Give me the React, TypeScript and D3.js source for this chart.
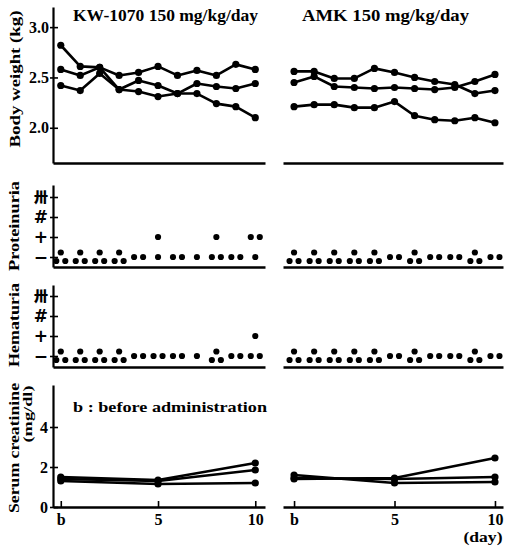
import React, { useEffect, useRef } from 'react';
import * as d3 from 'd3';

// days after start, b = before administration (day 0)
const days = [0, 1, 2, 3, 4, 5, 6, 7, 8, 9, 10];
const dayTicks = [0, 5, 10];
const dayTickLabels = ['b', '5', '10'];

// body weight (kg), KW-1070 group
const kwWeight1 = [2.82, 2.61, 2.6, 2.38, 2.47, 2.42, 2.34, 2.34, 2.24, 2.21, 2.1];
const kwWeight2 = [2.42, 2.37, 2.54, 2.38, 2.36, 2.31, 2.34, 2.44, 2.41, 2.39, 2.44];
const kwWeight3 = [2.58, 2.52, 2.6, 2.52, 2.55, 2.61, 2.52, 2.57, 2.52, 2.63, 2.58];

// body weight (kg), AMK group
const amkWeight1 = [2.56, 2.56, 2.49, 2.49, 2.59, 2.55, 2.5, 2.46, 2.43, 2.34, 2.37];
const amkWeight2 = [2.45, 2.51, 2.41, 2.4, 2.39, 2.4, 2.39, 2.38, 2.4, 2.46, 2.53];
const amkWeight3 = [2.21, 2.23, 2.23, 2.2, 2.2, 2.26, 2.12, 2.08, 2.07, 2.1, 2.05];

const weightTicks = [2.0, 2.5, 3.0];

// urine grades: 0 = -, 1 = +, 2 = ++, 3 = +++ (one entry per visible dot)
const gradeTicks = [0, 1, 2, 3];
const gradeLabels = ['\u2212', '+', '#', '\u5345'];

const kwProteinuria = [[0, 0, 0], [0, 0, 0], [0, 0, 0], [0, 0, 0], [0, 0], [0, 1], [0, 0], [0], [0, 0, 1], [0, 0], [0, 1, 1]];
const amkProteinuria = [[0, 0, 0], [0, 0, 0], [0, 0, 0], [0, 0, 0], [0, 0, 0], [0, 0], [0, 0, 0], [0, 0], [0, 0], [0, 0, 0], [0, 0]];
const kwHematuria = [[0, 0, 0], [0, 0, 0], [0, 0, 0], [0, 0, 0], [0, 0], [0, 0], [0, 0], [0], [0, 0, 0], [0, 0], [0, 0, 1]];
const amkHematuria = [[0, 0, 0], [0, 0, 0], [0, 0, 0], [0, 0, 0], [0, 0, 0], [0, 0], [0, 0, 0], [0, 0], [0, 0], [0, 0, 0], [0, 0]];

// serum creatinine (mg/dl)
const creatDays = [0, 5, 10];
const kwCreat1 = [1.5, 1.35, 2.2];
const kwCreat2 = [1.4, 1.3, 1.85];
const kwCreat3 = [1.3, 1.15, 1.2];
const amkCreat1 = [1.6, 1.2, 1.25];
const amkCreat2 = [1.4, 1.45, 2.45];
const amkCreat3 = [1.45, 1.4, 1.5];
const creatTicks = [0, 2, 4];

const serif = '"Liberation Serif", "DejaVu Serif", serif';
const sansBold = '"DejaVu Sans", sans-serif';
const cjk = '"Noto Sans CJK JP", "Noto Sans CJK SC", sans-serif';

const App = () => {
  const ref = useRef(null);

  useEffect(() => {
    document.body.style.margin = '0';
    let svg = d3.select(ref.current);
    svg.selectAll('*').remove();

    let xLeft = d3.scaleLinear().domain([-0.4, 10.5]).range([53, 265]);
    let xRight = d3.scaleLinear().domain([-0.55, 10.4]).range([283, 503]);

    let yWeight = d3.scaleLinear().domain([1.65, 3.2]).range([163, 7]);
    let yProt = d3.scaleLinear().domain([-0.5, 3.6]).range([267, 185]);
    let yHema = d3.scaleLinear().domain([-0.55, 3.55]).range([367, 285]);
    let yCreat = d3.scaleLinear().domain([0, 6.1]).range([507, 385]);

    const styleText = (g, size, family) => {
      g.attr('font-family', null).attr('font-size', null);
      g.selectAll('text')
        .attr('font-family', family || serif)
        .attr('font-weight', 'bold')
        .attr('font-size', size)
        .attr('fill', '#000');
    };

    const yAxis = (y, ticks, labels, pad, size, family) => {
      let g = svg.append('g')
        .attr('transform', 'translate(53,0)')
        .call(d3.axisLeft(y).tickValues(ticks)
          .tickFormat((d, i) => labels[i])
          .tickSizeInner(-5).tickSizeOuter(0).tickPadding(pad));
      g.select('.domain').attr('stroke-width', 2.2);
      g.selectAll('.tick line').attr('x1', -3).attr('x2', 5).attr('stroke-width', 1.6);
      styleText(g, size, family);
      return g;
    };

    const gradeAxis = (y) => {
      let g = yAxis(y, gradeTicks, gradeLabels, 5, 17, sansBold);
      g.selectAll('.tick text')
        .filter((d) => d === 3)
        .attr('font-family', cjk)
        .attr('font-weight', 900)
        .attr('font-size', 14);
    };

    const xAxis = (x, yPos, withTicks) => {
      let axis = d3.axisBottom(x).tickSizeOuter(0);
      if (withTicks) {
        axis = axis.tickValues(dayTicks).tickFormat((d, i) => dayTickLabels[i])
          .tickSizeInner(-6).tickPadding(7);
      } else {
        axis = axis.tickValues([]);
      }
      let g = svg.append('g').attr('transform', 'translate(0,' + yPos + ')').call(axis);
      g.select('.domain').attr('stroke-width', 2.4);
      g.selectAll('.tick line').attr('stroke-width', 1.6);
      styleText(g, 16);
    };

    const series = (x, y, xs, values, r) => {
      let line = d3.line().x((d, i) => x(xs[i])).y((d) => y(d));
      svg.append('path')
        .attr('d', line(values))
        .attr('fill', 'none')
        .attr('stroke', '#000')
        .attr('stroke-width', 2.6)
        .attr('stroke-linejoin', 'round');
      svg.append('g').selectAll('circle')
        .data(values)
        .enter().append('circle')
        .attr('cx', (d, i) => x(xs[i]))
        .attr('cy', (d) => y(d))
        .attr('r', r)
        .attr('fill', '#000');
    };

    // spread dots of the same grade on a day: single, pair, or small triangle
    const gradeDots = (x, y, data) => {
      let pts = [];
      data.forEach((grades, i) => {
        d3.groups(grades, (g) => g).forEach(([grade, list]) => {
          let n = list.length;
          let offsets = n === 1 ? [[0, 0]]
            : n === 2 ? [[-4.5, 0], [4.5, 0]]
            : [[-4.5, 4], [0, -4.5], [4.5, 4]];
          offsets.forEach(([dx, dy]) => {
            pts.push({ cx: x(days[i]) + dx, cy: y(grade) + dy });
          });
        });
      });
      svg.append('g').selectAll('circle')
        .data(pts)
        .enter().append('circle')
        .attr('cx', (d) => d.cx)
        .attr('cy', (d) => d.cy)
        .attr('r', 3.1)
        .attr('fill', '#000');
    };

    // body weight
    yAxis(yWeight, weightTicks, weightTicks.map((d) => d3.format('.1f')(d)), 4, 16);
    xAxis(xLeft, 163, false);
    xAxis(xRight, 163, false);
    [kwWeight1, kwWeight2, kwWeight3].forEach((s) => series(xLeft, yWeight, days, s, 3.6));
    [amkWeight1, amkWeight2, amkWeight3].forEach((s) => series(xRight, yWeight, days, s, 3.6));

    // proteinuria
    gradeAxis(yProt);
    xAxis(xLeft, 267, false);
    xAxis(xRight, 267, false);
    gradeDots(xLeft, yProt, kwProteinuria);
    gradeDots(xRight, yProt, amkProteinuria);

    // hematuria
    gradeAxis(yHema);
    xAxis(xLeft, 367, false);
    xAxis(xRight, 367, false);
    gradeDots(xLeft, yHema, kwHematuria);
    gradeDots(xRight, yHema, amkHematuria);

    // serum creatinine
    yAxis(yCreat, creatTicks, creatTicks.map(String), 5, 16);
    xAxis(xLeft, 507, true);
    xAxis(xRight, 507, true);
    [kwCreat1, kwCreat2, kwCreat3].forEach((s) => series(xLeft, yCreat, creatDays, s, 3.6));
    [amkCreat1, amkCreat2, amkCreat3].forEach((s) => series(xRight, yCreat, creatDays, s, 3.6));

    // texts
    const label = (txt, x, y, size, len, rotate, anchor) => {
      svg.append('text')
        .attr('transform', 'translate(' + x + ',' + y + ')' + (rotate ? ' rotate(-90)' : ''))
        .attr('text-anchor', anchor || 'middle')
        .attr('font-family', serif)
        .attr('font-weight', 'bold')
        .attr('font-size', size)
        .attr('textLength', len)
        .attr('lengthAdjust', 'spacingAndGlyphs')
        .text(txt);
    };

    label('KW-1070 150 mg/kg/day', 73, 21, 16, 185, false, 'start');
    label('AMK 150  mg/kg/day', 302, 21, 16, 167, false, 'start');
    label('b : before administration', 73, 412, 15, 194, false, 'start');
    label('(day)', 483, 542, 15, 39, false, 'middle');

    label('Body weight (kg)', 20, 79, 15, 137, true);
    label('Proteinuria', 19, 226, 15, 90, true);
    label('Hematuria', 19, 325, 15, 84, true);
    label('Serum creatinine', 19, 448, 14, 130, true);
    label('(mg/dl)', 32, 414, 13, 57, true);
  }, []);

  return <svg ref={ref} width={505} height={546} style={{ display: 'block', background: '#fff' }} />;
};

export default App;
